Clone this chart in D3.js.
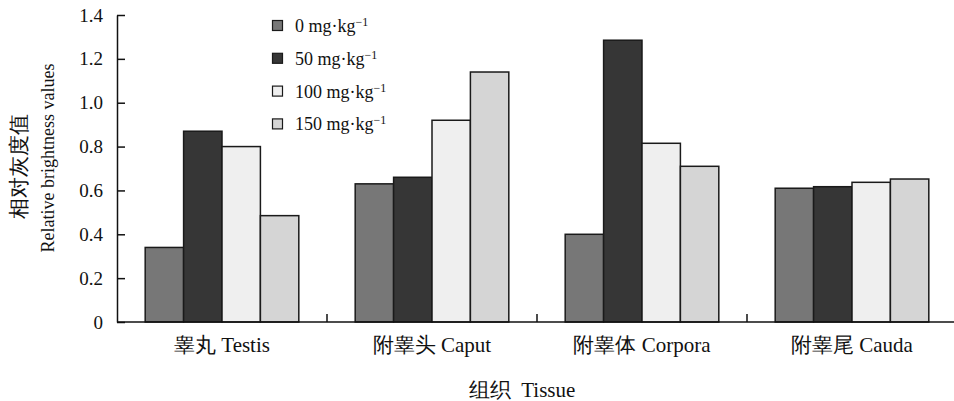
<!DOCTYPE html>
<html>
<head>
<meta charset="utf-8">
<script src="https://cdn.jsdelivr.net/npm/d3@7/dist/d3.min.js"></script>
<style>
  html, body { margin: 0; padding: 0; background: #fff; }
  svg { display: block; }
  text { font-family: serif; fill: #111; }
</style>
</head>
<body>
<svg id="chart" width="954" height="401"></svg>
<script>
// Tissue groups (x categories)
const tissues = ["睾丸 Testis", "附睾头 Caput", "附睾体 Corpora", "附睾尾 Cauda"];
// Dose series
const doses = ["0", "50", "100", "150"];
const doseColors = ["#777777", "#363636", "#efefef", "#d5d5d5"];
// Relative brightness per dose, in tissue order
const dose0   = [0.34, 0.63, 0.40, 0.61];
const dose50  = [0.87, 0.66, 1.285, 0.617];
const dose100 = [0.80, 0.92, 0.815, 0.637];
const dose150 = [0.485, 1.14, 0.71, 0.652];
const seriesValues = [dose0, dose50, dose100, dose150];
// Y tick labels
const yTicks = [0, 0.2, 0.4, 0.6, 0.8, 1.0, 1.2, 1.4];
const yTickLabels = ["0", "0.2", "0.4", "0.6", "0.8", "1.0", "1.2", "1.4"];

const svg = d3.select("#chart");
const plotLeft = 117, plotRight = 957, plotTop = 15, plotBottom = 322;

const x0 = d3.scaleBand().domain(tissues).range([plotLeft, plotRight]).paddingInner(0).paddingOuter(0);
const x1 = d3.scaleBand().domain(doses).range([0, x0.bandwidth()]).paddingInner(0).paddingOuter(0.734);
const y = d3.scaleLinear().domain([0, 1.4]).range([plotBottom, plotTop]);

// Bars
const g = svg.append("g");
tissues.forEach((t, ti) => {
  const grp = g.append("g").attr("transform", `translate(${x0(t)},0)`);
  doses.forEach((d, di) => {
    const v = seriesValues[di][ti];
    grp.append("rect")
      .attr("x", x1(d))
      .attr("y", y(v))
      .attr("width", x1.bandwidth())
      .attr("height", y(0) - y(v))
      .attr("fill", doseColors[di])
      .attr("stroke", "#1a1a1a")
      .attr("stroke-width", 1.5);
  });
});

// Y axis with inward ticks
const yAxis = d3.axisLeft(y).tickValues(yTicks)
  .tickFormat((d, i) => yTickLabels[i])
  .tickSizeInner(-8).tickSizeOuter(0).tickPadding(14);
const ya = svg.append("g").attr("transform", `translate(${plotLeft},0)`).call(yAxis)
  .attr("font-family", null).attr("font-size", null);
ya.select(".domain").attr("stroke", "#111").attr("stroke-width", 1.5);
ya.selectAll(".tick line").attr("stroke", "#111").attr("stroke-width", 1.5);
ya.selectAll(".tick text").attr("font-size", 19).attr("fill", "#111");

// X axis: group boundary ticks pointing up
const xa = svg.append("g").attr("transform", `translate(0,${plotBottom})`);
xa.append("line").attr("x1", plotLeft).attr("x2", 954).attr("y1", 0).attr("y2", 0)
  .attr("stroke", "#111").attr("stroke-width", 1.5);
tissues.slice(1).forEach(t => {
  xa.append("line").attr("x1", x0(t)).attr("x2", x0(t)).attr("y1", 0).attr("y2", -8)
    .attr("stroke", "#111").attr("stroke-width", 1.5);
});
tissues.forEach(t => {
  xa.append("text")
    .attr("x", x0(t) + x0.bandwidth() / 2)
    .attr("y", 30)
    .attr("text-anchor", "middle")
    .attr("font-size", 21)
    .text(t);
});

// Axis titles
svg.append("text")
  .attr("transform", "translate(26,166) rotate(-90)")
  .attr("text-anchor", "middle")
  .attr("font-size", 21)
  .text("相对灰度值");
svg.append("text")
  .attr("transform", "translate(54,158) rotate(-90)")
  .attr("text-anchor", "middle")
  .attr("font-size", 18)
  .text("Relative brightness values");
svg.append("text")
  .attr("x", 522).attr("y", 397)
  .attr("text-anchor", "middle")
  .attr("font-size", 21)
  .attr("xml:space", "preserve")
  .text("组织  Tissue");

// Legend
const leg = svg.append("g");
doses.forEach((d, i) => {
  const cy = 26 + i * 32.8;
  leg.append("rect")
    .attr("x", 272.5).attr("y", cy - 5.5)
    .attr("width", 10).attr("height", 10)
    .attr("fill", doseColors[i])
    .attr("stroke", "#1a1a1a").attr("stroke-width", 1.2);
  const t = leg.append("text")
    .attr("x", 295).attr("y", cy + 6)
    .attr("font-size", 18);
  t.append("tspan").text(`${d} mg·kg`);
  t.append("tspan").attr("dy", -6).attr("font-size", 12).text("−1");
});
</script>
</body>
</html>
